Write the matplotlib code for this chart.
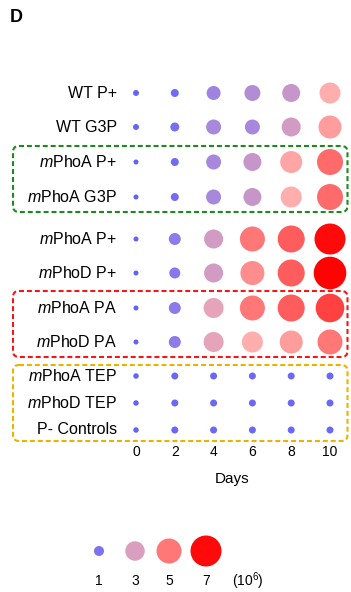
import numpy as np
import matplotlib
matplotlib.use("Agg")
import matplotlib.pyplot as plt
from matplotlib.patches import FancyBboxPatch
from matplotlib.colors import LinearSegmentedColormap

plt.rcParams['font.family'] = ['Liberation Sans', 'DejaVu Sans']
plt.rcParams['mathtext.fontset'] = 'custom'
plt.rcParams['mathtext.rm'] = 'Liberation Sans'
plt.rcParams['mathtext.it'] = 'Liberation Sans:italic'

# data: cell density (10^6) per strain / condition over days
days = [0, 2, 4, 6, 8, 10]
rows = ["WT P+", "WT G3P", "$m$PhoA P+", "$m$PhoA G3P", "$m$PhoA P+", "$m$PhoD P+",
        "$m$PhoA PA", "$m$PhoD PA", "$m$PhoA TEP", "$m$PhoD TEP", "P- Controls"]
wt_p = [0.33, 0.67, 1.84, 2.26, 2.68, 3.55]
wt_g3p = [0.33, 0.83, 2.05, 2.05, 2.9, 4.27]
phoa_p_g = [0.17, 0.67, 2.05, 2.68, 3.9, 5.33]
phoa_g3p = [0.17, 0.67, 2.05, 2.68, 3.55, 5.33]
phoa_p = [0.17, 1.42, 2.9, 5.0, 5.67, 7.0]
phod_p = [0.17, 1.21, 2.9, 4.64, 5.67, 7.8]
phoa_pa = [0.17, 1.42, 3.18, 5.0, 5.67, 6.2]
phod_pa = [0.17, 1.42, 3.18, 3.55, 4.27, 5.0]
phoa_tep = [0.25, 0.5, 0.5, 0.5, 0.5, 0.5]
phod_tep = [0.25, 0.5, 0.5, 0.5, 0.5, 0.5]
p_ctrl = [0.25, 0.5, 0.5, 0.5, 0.5, 0.5]
values = np.array([wt_p, wt_g3p, phoa_p_g, phoa_g3p, phoa_p, phod_p,
                   phoa_pa, phod_pa, phoa_tep, phod_tep, p_ctrl])
legend_vals = [1, 3, 5, 7]

# layout (pixels)
W, H = 351, 592
row_y = [93, 127, 162, 197, 239, 273, 308, 342, 376, 403, 430]
x0, step = 136, 19.4  # pixel of day 0, pixels per day
px = 72 / 100  # points per pixel

# value -> diameter (px) and colour
size_v = [0, 1, 3, 5, 7, 8]
size_d = [4, 10, 19.5, 25, 31, 33]
def area(v):
    return (np.interp(v, size_v, size_d) * px) ** 2

cvals = [0, 0.3, 1, 2, 2.9, 3.5, 4.5, 5, 6, 7, 8]
ccols = [(95, 95, 248), (100, 100, 245), (125, 115, 240), (165, 135, 222), (210, 155, 195),
         (255, 175, 175), (255, 150, 150), (255, 120, 120), (255, 80, 80), (255, 10, 10), (255, 0, 0)]
cmap = LinearSegmentedColormap.from_list(
    "dens", [(v / 8, tuple(c / 255 for c in col)) for v, col in zip(cvals, ccols)])

fig = plt.figure(figsize=(W / 100, H / 100), dpi=100)
ax = fig.add_axes([0, 0, 1, 1])
ax.set_xlim(-x0 / step, (W - x0) / step)
ax.set_ylim(H, 0)
ax.axis("off")

axp = fig.add_axes([0, 0, 1, 1], sharey=ax)
axp.set_xlim(0, W)
axp.patch.set_alpha(0)
axp.axis("off")

for i, y in enumerate(row_y):
    ax.scatter(days, [y] * len(days), s=area(values[i]), c=values[i], cmap=cmap,
               vmin=0, vmax=8, linewidths=0, zorder=3)
    axp.text(117, y, rows[i], ha="right", va="center", fontsize=11.5)

for d in days:
    ax.text(d, 452, str(d), ha="center", va="center", fontsize=10)
ax.text(4.93, 479, "Days", ha="center", va="center", fontsize=11)

axp.text(10, 17, "D", ha="left", va="center", fontsize=13, fontweight="bold")

boxes = [(146, 212, "#1e8a1e"), (291, 357, "#f01818"), (365, 441, "#e8b400")]
for top, bottom, col in boxes:
    axp.add_patch(FancyBboxPatch((13, top), 334.5, bottom - top,
                                 boxstyle="round,pad=0,rounding_size=6",
                                 fill=False, edgecolor=col, linewidth=1.5,
                                 linestyle=(0, (2.4, 1.4))))

leg_x = [99, 135, 169, 206]
axp.scatter(leg_x, [551] * 4, s=area(np.array(legend_vals)), c=legend_vals, cmap=cmap,
            vmin=0, vmax=8, linewidths=0, zorder=3)
for x, v in zip(leg_x, legend_vals):
    axp.text(x, 581, str(v), ha="center", va="center", fontsize=10)
axp.text(248, 581, "(10$^6$)", ha="center", va="center", fontsize=10)

fig.savefig("out.png", dpi=100)
